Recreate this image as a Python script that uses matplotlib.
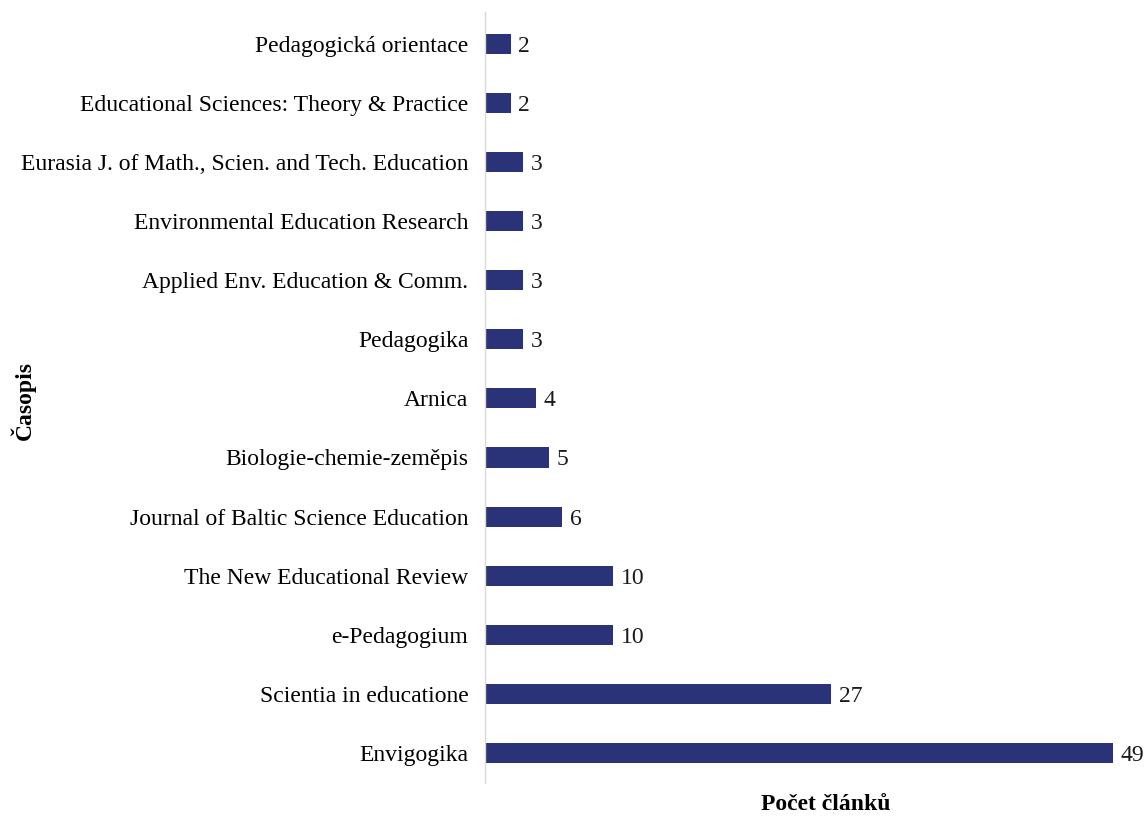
import matplotlib
matplotlib.use("Agg")
import matplotlib.pyplot as plt

journals = [
    "Envigogika",
    "Scientia in educatione",
    "e-Pedagogium",
    "The New Educational Review",
    "Journal of Baltic Science Education",
    "Biologie-chemie-zeměpis",
    "Arnica",
    "Pedagogika",
    "Applied Env. Education & Comm.",
    "Environmental Education Research",
    "Eurasia J. of Math., Scien. and Tech. Education",
    "Educational Sciences: Theory & Practice",
    "Pedagogická orientace",
]
counts = [49, 27, 10, 10, 6, 5, 4, 3, 3, 3, 3, 2, 2]

plt.rcParams['font.family'] = ['Liberation Serif', 'DejaVu Serif']

fig = plt.figure(figsize=(11.47, 8.16), dpi=100)
ax = fig.add_axes([485/1147, 1 - 783/816, 628/1147, 771/816])

color = '#2B3378'
pos = list(range(len(journals)))
ax.barh(pos, counts, height=0.34, color=color)
for p, c in zip(pos, counts):
    ax.annotate(str(c), (c, p), xytext=(5.5, 0), textcoords='offset points',
                va='center_baseline', ha='left', fontsize=17, color='#1a1a1a')

ax.set_xlim(0, 49)
ax.set_ylim(-0.51, 12.54)
ax.set_yticks(pos)
ax.set_yticklabels(journals, fontsize=17, va='center_baseline')
ax.tick_params(axis='y', length=0, pad=12)
ax.set_xticks([])
for s in ['top', 'right', 'bottom']:
    ax.spines[s].set_visible(False)
ax.spines['left'].set_color('#D9D9D9')
ax.spines['left'].set_linewidth(1)

ax.set_xlabel('Počet článků', fontsize=17, fontweight='bold')
ax.xaxis.set_label_coords((826 - 485) / 628, -(794 - 783) / 771)
ax.set_ylabel('Časopis', fontsize=17, fontweight='bold')
ax.yaxis.set_label_coords((36 - 485) / 628, (783 - 400) / 771)

fig.savefig('out.png', dpi=100)
